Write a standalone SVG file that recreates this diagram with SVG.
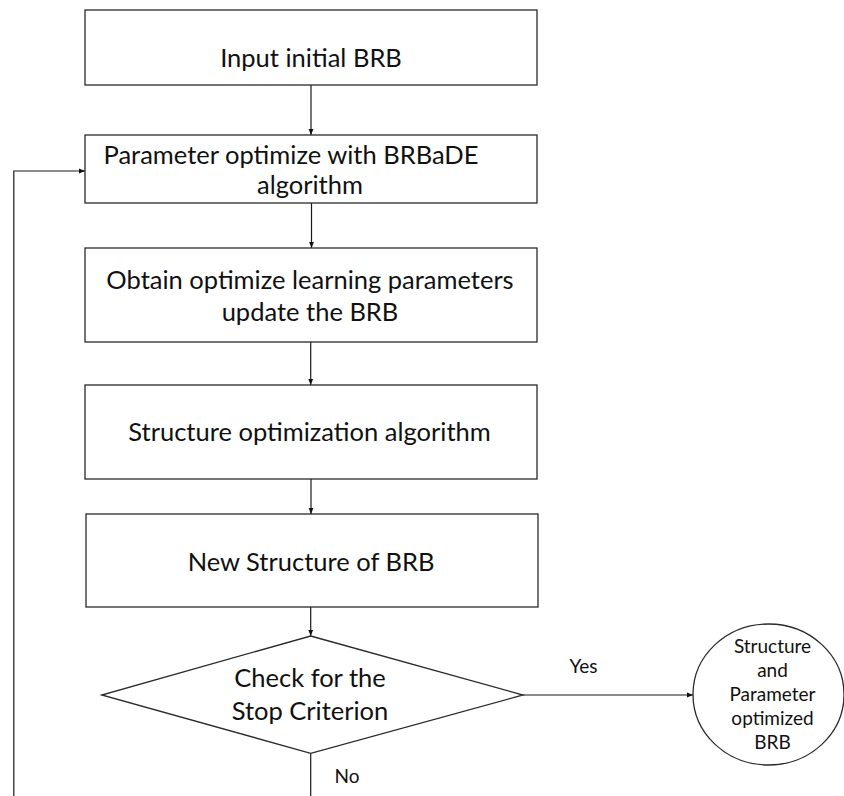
<svg xmlns="http://www.w3.org/2000/svg" width="844" height="796" viewBox="0 0 844 796">
<style>
.box{fill:#fff;stroke:#2a2a2a;stroke-width:1.3}
.ln{fill:none;stroke:#1a1a1a;stroke-width:1.2}
.t{font-family:Lato,"Open Sans","Liberation Sans",sans-serif;font-size:25.5px;fill:#111;text-anchor:middle}
.s{font-family:Lato,"Open Sans","Liberation Sans",sans-serif;font-size:19px;fill:#111;text-anchor:middle}
</style>
<defs>
<marker id="ah" viewBox="0 0 10 10" refX="10" refY="5" markerWidth="6" markerHeight="6" markerUnits="userSpaceOnUse" orient="auto">
<path d="M0,1 L10,5 L0,9 Z" fill="#111"/>
</marker>
</defs>
<rect width="844" height="796" fill="#fff"/>
<g id="connectors">
<line class="ln" x1="311" y1="85" x2="311" y2="135" marker-end="url(#ah)"/>
<line class="ln" x1="311.5" y1="203" x2="311.5" y2="248" marker-end="url(#ah)"/>
<line class="ln" x1="310.7" y1="342" x2="310.7" y2="385" marker-end="url(#ah)"/>
<line class="ln" x1="311" y1="479" x2="311" y2="514" marker-end="url(#ah)"/>
<line class="ln" x1="310.7" y1="607" x2="310.7" y2="636" marker-end="url(#ah)"/>
<line class="ln" x1="523" y1="695" x2="693" y2="695" marker-end="url(#ah)"/>
<line class="ln" x1="310.7" y1="753.3" x2="310.7" y2="796"/>
<polyline class="ln" points="13.8,796 13.8,171 85,171" marker-end="url(#ah)"/>
<text class="s" x="583.5" y="672.7">Yes</text>
<text class="s" x="347" y="783.3">No</text>
</g>
<g id="n1">
<rect class="box" x="85" y="10" width="452" height="75"/>
<text class="t" x="311" y="66.7">Input initial BRB</text>
</g>
<g id="n2">
<rect class="box" x="85" y="135" width="452" height="68"/>
<text class="t" x="291" y="164">Parameter optimize with BRBaDE</text>
<text class="t" x="310" y="193.5">algorithm</text>
</g>
<g id="n3">
<rect class="box" x="85" y="248" width="452" height="94"/>
<text class="t" x="310" y="289">Obtain optimize learning parameters</text>
<text class="t" x="310" y="320.7">update the BRB</text>
</g>
<g id="n4">
<rect class="box" x="85" y="385" width="452" height="94"/>
<text class="t" x="309.5" y="441">Structure optimization algorithm</text>
</g>
<g id="n5">
<rect class="box" x="86" y="514" width="452" height="93"/>
<text class="t" x="311" y="570.7">New Structure of BRB</text>
</g>
<g id="n6">
<polygon class="box" points="310.7,636 523,695 310.7,753.3 101.7,695"/>
<text class="t" x="310" y="686.7">Check for the</text>
<text class="t" x="310" y="720">Stop Criterion</text>
</g>
<g id="n7">
<ellipse class="box" cx="768.5" cy="694.5" rx="75.5" ry="70.5"/>
<text class="s" x="772.5" y="652.7">Structure</text>
<text class="s" x="772.5" y="676.5">and</text>
<text class="s" x="772.5" y="701">Parameter</text>
<text class="s" x="772.5" y="725">optimized</text>
<text class="s" x="772.5" y="749">BRB</text>
</g>
</svg>
